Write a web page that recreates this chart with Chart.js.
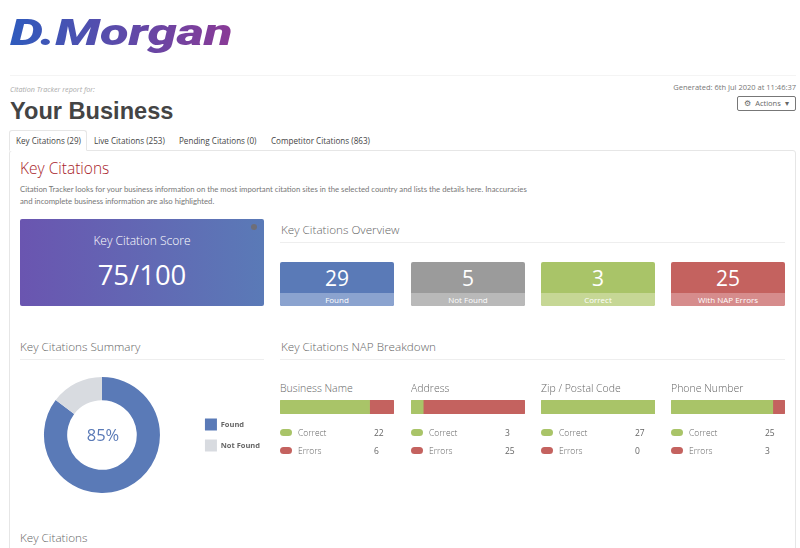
<!DOCTYPE html>
<html>
<head>
<meta charset="utf-8">
<script src="https://cdn.jsdelivr.net/npm/chart.js@4"></script>
<style>
html, body { margin: 0; padding: 0; background: #fff; }
body { width: 800px; height: 548px; overflow: hidden; position: relative; font-family: "Open Sans", sans-serif; color: #666; }
.abs { position: absolute; white-space: nowrap; }
.h { font-size: 11.7px; color: #666; font-weight: 300; }
.rule { position: absolute; height: 1px; background: #eee; }
.card { position: absolute; top: 262px; width: 114px; height: 44px; border-radius: 2px; overflow: hidden; color: #fff; text-align: center; }
.card .num { font-size: 21px; line-height: 33px; height: 31px; overflow: hidden; }
.card .lab { font-size: 8px; line-height: 13px; height: 13px; }
.tab { position: absolute; top: 130px; height: 20px; line-height: 21px; font-size: 8.1px; color: #444; white-space: nowrap; }
canvas { position: absolute; }
</style>
</head>
<body>
<div class="abs" id="logo" style="left:10px;top:11px;font:italic 900 37px 'Roboto';background:linear-gradient(90deg,#2f5bbd,#8a3a96);-webkit-background-clip:text;background-clip:text;color:transparent;transform-origin:left top;transform:scaleX(1.42)">D.Morgan</div>
<div class="rule" style="left:10px;top:75px;width:786px;background:#f4f4f4"></div>
<div class="abs" style="left:10px;top:84px;font-size:7.2px;font-style:italic;color:#aaa">Citation Tracker report for:</div>
<div class="abs" style="left:10px;top:98px;font:bold 23.6px 'Liberation Sans';color:#444">Your Business</div>
<div class="abs" style="right:4px;top:82px;font-size:7.5px;color:#777">Generated: 6th Jul 2020 at 11:46:37</div>
<div class="abs" style="left:737px;top:96px;width:57px;height:13px;border:1px solid #777;border-radius:2px;font-size:7.5px;line-height:13px;text-align:center;color:#666;word-spacing:2px">⚙ Actions ▾</div>

<div style="position:absolute;left:9px;top:150px;width:787px;height:420px;border:1px solid #e6e6e6;border-radius:3px;box-sizing:border-box"></div>
<div style="position:absolute;left:9px;top:130px;width:78px;height:21px;border:1px solid #e6e6e6;border-bottom:1px solid #fff;border-radius:3px 3px 0 0;box-sizing:border-box;background:#fff"></div>
<div id="tabs"></div>

<div class="abs" style="left:20px;top:157px;font-size:15.5px;font-weight:300;color:#a8232a">Key Citations</div>
<div class="abs" style="left:20px;top:183px;font:7.75px/12px 'Lato';color:#777">Citation Tracker looks for your business information on the most important citation sites in the selected country and lists the details here. Inaccuracies<br>and incomplete business information are also highlighted.</div>

<div style="position:absolute;left:20px;top:219px;width:244px;height:87px;border-radius:2px;background:linear-gradient(90deg,#6a55b0,#5a7ab7)"></div>
<div style="position:absolute;left:251px;top:224px;width:6px;height:6px;border-radius:50%;background:#6e6e78"></div>
<div class="abs" style="left:20px;top:232px;width:244px;text-align:center;font-size:12px;font-weight:300;color:#fff">Key Citation Score</div>
<div class="abs" style="left:20px;top:256px;width:244px;text-align:center;font-size:27.5px;font-weight:400;color:#fff">75/100</div>

<div class="abs h" style="left:281px;top:221px">Key Citations Overview</div>
<div class="rule" style="left:280px;top:242px;width:505px"></div>
<div id="cards"></div>

<div class="abs h" style="left:20px;top:338px">Key Citations Summary</div>
<div class="rule" style="left:20px;top:359px;width:244px"></div>
<div class="abs h" style="left:281px;top:338px">Key Citations NAP Breakdown</div>
<div class="rule" style="left:280px;top:359px;width:505px"></div>
<div class="abs h" style="left:20px;top:529px">Key Citations</div>

<canvas id="donut" style="left:8px;top:377px" width="262" height="116"></canvas>
<div class="abs" id="pct" style="left:3px;top:423px;width:200px;text-align:center;font-size:16.5px;color:#5a7ab7">85%</div>
<div id="nap"></div>

<script>
const tabNames = ['Key Citations (29)', 'Live Citations (253)', 'Pending Citations (0)', 'Competitor Citations (863)'];
const tabLefts = [16, 94, 179, 271];

const cardLabels = ['Found', 'Not Found', 'Correct', 'With NAP Errors'];
const cardValues = [29, 5, 3, 25];
const cardLefts = [280, 411, 541, 671];
const cardColors = ['#5a7ab7', '#9b9b9b', '#a9c468', '#c4625f'];
const cardLight = ['#8ba3cf', '#b9b9b9', '#c6d795', '#d68c8c'];

const summaryLabels = ['Found', 'Not Found'];
const summaryValues = [29, 5];

const napFields = ['Business Name', 'Address', 'Zip / Postal Code', 'Phone Number'];
const napCorrect = [22, 3, 27, 25];
const napErrors = [6, 25, 0, 3];
const napLefts = [280, 411, 541, 671];

const green = '#a9c468';
const red = '#c4625f';

tabNames.forEach((t, i) => {
    const d = document.createElement('div');
    d.className = 'tab';
    d.style.left = tabLefts[i] + 'px';
    d.textContent = t;
    document.getElementById('tabs').appendChild(d);
});

cardLabels.forEach((t, i) => {
    const d = document.createElement('div');
    d.className = 'card';
    d.style.left = cardLefts[i] + 'px';
    d.style.background = cardColors[i];
    d.innerHTML = '<div class="num">' + cardValues[i] + '</div><div class="lab" style="background:' + cardLight[i] + '">' + t + '</div>';
    document.getElementById('cards').appendChild(d);
});

new Chart(document.getElementById('donut'), {
    type: 'doughnut',
    data: {
        labels: summaryLabels,
        datasets: [{
            data: summaryValues,
            backgroundColor: ['#5a7ab7', '#d8dbe0'],
            borderWidth: 0
        }]
    },
    options: {
        responsive: false,
        animation: false,
        cutout: '60%',
        plugins: {
            tooltip: { enabled: false },
            legend: {
                position: 'right',
                labels: {
                    boxWidth: 12,
                    boxHeight: 12,
                    padding: 9,
                    color: '#666',
                    font: { family: 'Open Sans', size: 7.5, weight: 'bold' }
                }
            }
        }
    }
});

napFields.forEach((f, i) => {
    const root = document.getElementById('nap');
    const x = napLefts[i];
    root.insertAdjacentHTML('beforeend',
        '<div class="abs h" style="left:' + x + 'px;top:381px;font-size:10.5px">' + f + '</div>' +
        '<canvas id="nap' + i + '" style="left:' + x + 'px;top:400px" width="114" height="14"></canvas>' +
        '<div class="abs" style="left:' + x + 'px;top:429px;width:12px;height:7px;border-radius:4px;background:' + green + '"></div>' +
        '<div class="abs" style="left:' + (x + 18) + 'px;top:427px;font-size:8.5px;font-weight:300">Correct</div>' +
        '<div class="abs" style="left:' + (x + 94) + 'px;top:427px;font-size:8.5px">' + napCorrect[i] + '</div>' +
        '<div class="abs" style="left:' + x + 'px;top:447px;width:12px;height:7px;border-radius:4px;background:' + red + '"></div>' +
        '<div class="abs" style="left:' + (x + 18) + 'px;top:445px;font-size:8.5px;font-weight:300">Errors</div>' +
        '<div class="abs" style="left:' + (x + 94) + 'px;top:445px;font-size:8.5px">' + napErrors[i] + '</div>');
});

napFields.forEach((f, i) => {
    new Chart(document.getElementById('nap' + i), {
        type: 'bar',
        data: {
            labels: [f],
            datasets: [
                { data: [napCorrect[i]], backgroundColor: green, barPercentage: 1, categoryPercentage: 1, borderSkipped: false, borderRadius: { topLeft: 2, bottomLeft: 2 } },
                { data: [napErrors[i]], backgroundColor: red, barPercentage: 1, categoryPercentage: 1, borderSkipped: false, borderRadius: { topRight: 2, bottomRight: 2 } }
            ]
        },
        options: {
            indexAxis: 'y',
            responsive: false,
            animation: false,
            layout: { padding: 0 },
            plugins: { legend: { display: false }, tooltip: { enabled: false } },
            scales: {
                x: { stacked: true, display: false, min: 0, max: napCorrect[i] + napErrors[i] },
                y: { stacked: true, display: false }
            }
        }
    });
});
</script>
</body>
</html>
